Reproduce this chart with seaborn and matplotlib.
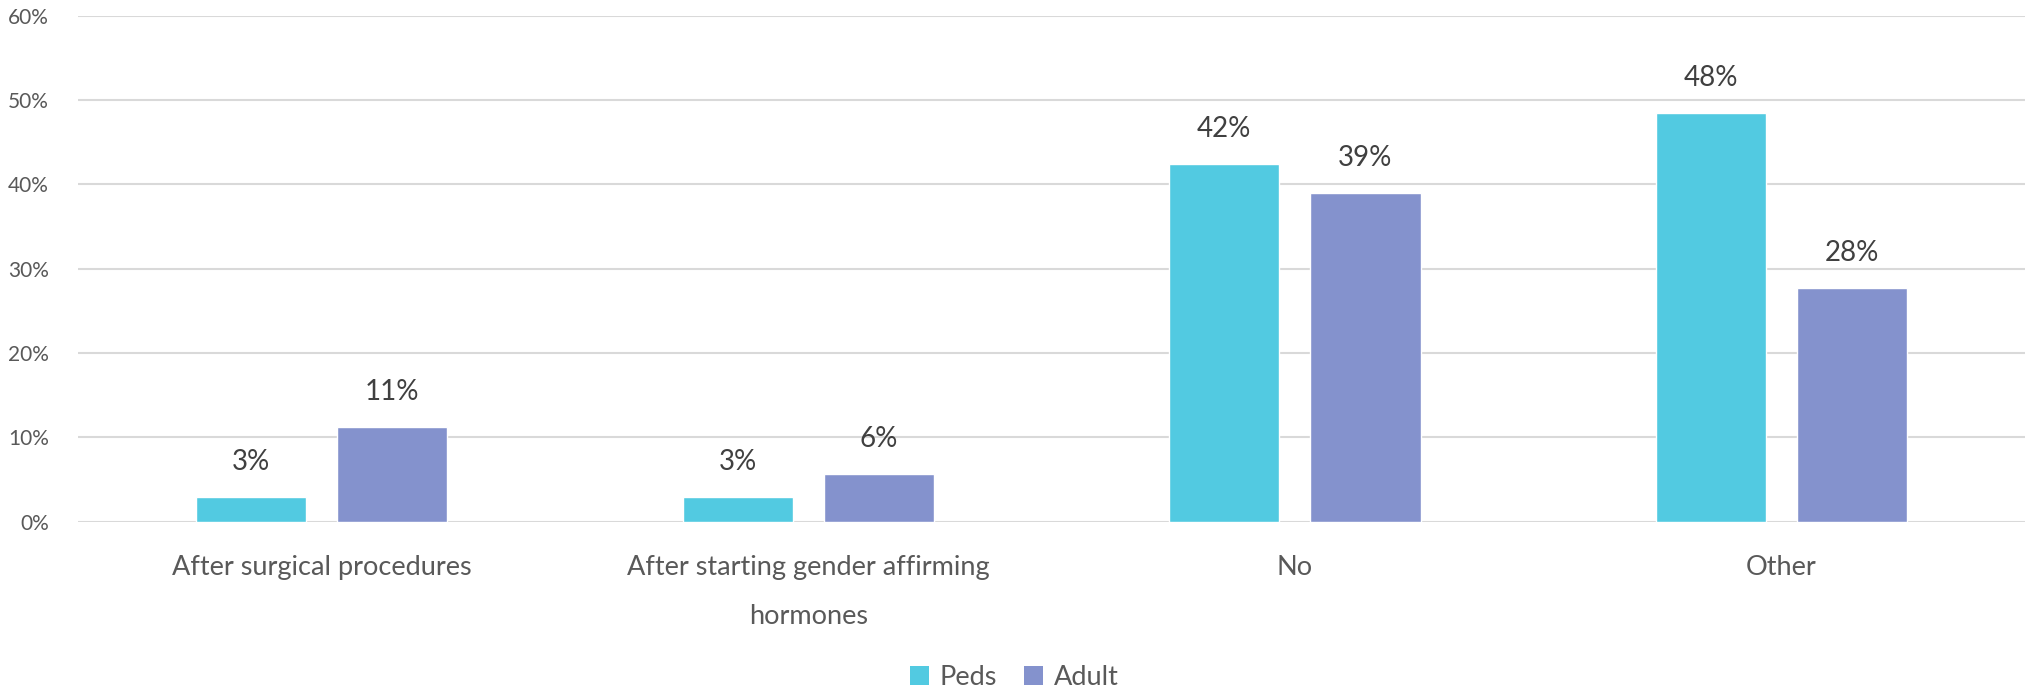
import matplotlib
matplotlib.use("Agg")
import matplotlib.pyplot as plt
import seaborn as sns
import pandas as pd
from matplotlib.patches import Patch

categories = ["After surgical procedures", "After starting gender affirming\nhormones", "No", "Other"]
series = ["Peds", "Adult"]
peds = [0.029, 0.029, 0.424, 0.484]
adult = [0.112, 0.056, 0.389, 0.277]
yticks = [0, 0.1, 0.2, 0.3, 0.4, 0.5, 0.6]
colors = ["#52CAE1", "#8492CD"]

df = pd.DataFrame({
    "category": categories * 2,
    "series": [series[0]] * len(categories) + [series[1]] * len(categories),
    "value": peds + adult,
})

sns.set_theme(style="white")
plt.rcParams["font.family"] = ["Lato", "DejaVu Sans"]
text_color = "#595959"

fig = plt.figure(figsize=(20.29, 6.89), dpi=100)
ax = fig.add_axes([0.0385, 0.243, 0.9595, 0.7345])

sns.barplot(data=df, x="category", y="value", hue="series", order=categories,
            hue_order=series, palette=colors, width=0.58, gap=0.22,
            saturation=1, legend=False, ax=ax, errorbar=None)

ax.set_ylim(0, 0.6)
ax.set_xlim(-0.5, 3.5)
ax.set_yticks(yticks)
ax.set_yticklabels([f"{int(round(t*100))}%" for t in yticks], color=text_color, fontsize=15)
ax.yaxis.grid(True, color="#D9D9D9", linewidth=1.5)
ax.set_axisbelow(True)
for s in ax.spines.values():
    s.set_visible(False)
ax.tick_params(axis="y", length=0, pad=21)
ax.tick_params(axis="x", length=0, pad=24)
for lbl in ax.get_xticklabels():
    lbl.set_color(text_color)
    lbl.set_fontsize(19.5)
    lbl.set_linespacing(2.2)
ax.set_xlabel("")
ax.set_ylabel("")

for cont in ax.containers:
    ax.bar_label(cont, labels=[f"{v*100:.0f}%" for v in cont.datavalues],
                 padding=16, color="#404040", fontsize=20)

handles = [Patch(facecolor=c, edgecolor="none") for c in colors]
fig.legend(handles, series, loc="center", bbox_to_anchor=(0.5, 0.017), ncol=2,
           frameon=False, fontsize=19.5, handlelength=0.7, handleheight=0.7,
           handletextpad=0.4, columnspacing=1.0, labelcolor=text_color)

fig.savefig("out.png", dpi=100)
